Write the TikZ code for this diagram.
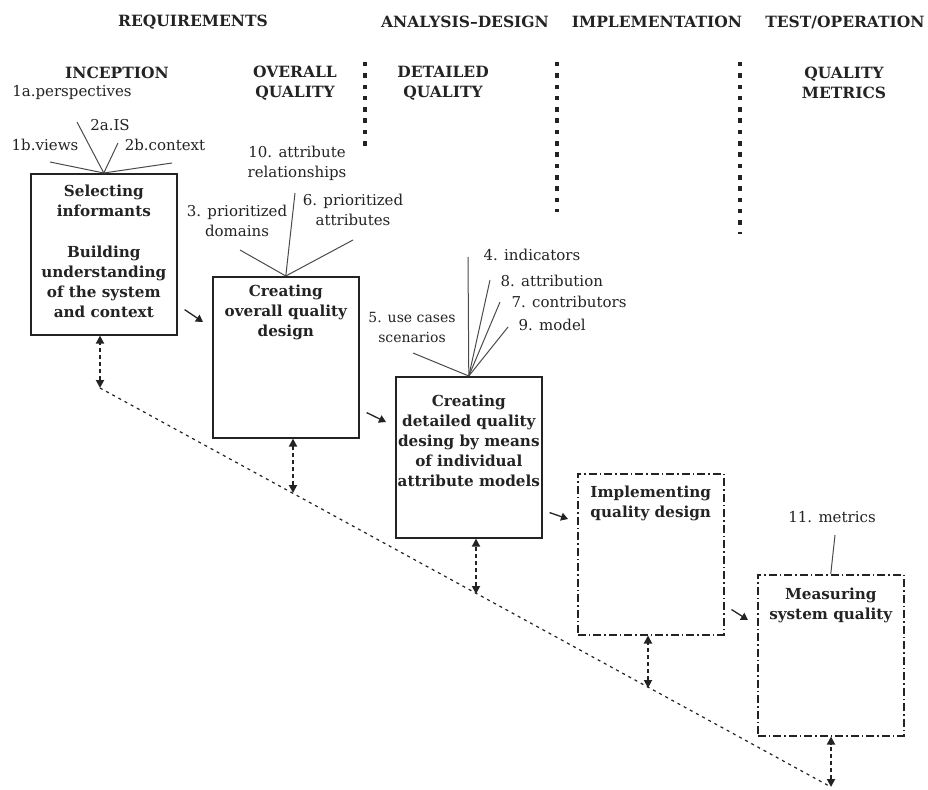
\documentclass[tikz,border=0pt]{standalone}
\usepackage{fontspec}
\setmainfont{DejaVu Serif}
\usetikzlibrary{arrows.meta,positioning}
\definecolor{ink}{HTML}{232323}
\definecolor{wire}{HTML}{4A4A4A}

\begin{document}
\begin{tikzpicture}[x=1pt,y=-1pt,ink,
    hd/.style={font={\fontsize{15.5}{20}\selectfont\bfseries},align=center},
    lb/.style={font={\fontsize{15}{20}\selectfont},align=center},
    stage/.style={draw,line width=1.6pt,anchor=north west,minimum width=146pt,minimum height=161pt},
    plan/.style={stage,line width=1.5pt,dash pattern=on 8pt off 3pt on 1.5pt off 3pt},
    inner/.style={font={\fontsize{15.2}{20}\selectfont\bfseries},align=center},
    feed/.style={wire,line width=1pt},
    flow/.style={line width=1.3pt,-{Triangle[length=7pt,width=8pt]}},
    link/.style={line width=1.8pt,dash pattern=on 4pt off 3pt,{Triangle[length=8pt,width=8pt]}-{Triangle[length=8pt,width=8pt]}},
    trace/.style={line width=1.2pt,dash pattern=on 3pt off 4pt},
    sep/.style={line width=4.5pt,dash pattern=on 4.5pt off 6.8pt}]
  \useasboundingbox (0,0) rectangle (928,789);

  % phases
  \node[hd] (req) at (193,22) {REQUIREMENTS};
  \node[hd] (ana) at (465,22) {ANALYSIS--DESIGN};
  \node[hd] (imp) at (657,22) {IMPLEMENTATION};
  \node[hd] (tst) at (845,22) {TEST/OPERATION};
  \node[hd] (inc) at (117,73) {INCEPTION};
  \node[hd] (ovq) at (295,83) {OVERALL\\QUALITY};
  \node[hd] (dtq) at (443,83) {DETAILED\\QUALITY};
  \node[hd] (qmt) at (844,83) {QUALITY\\METRICS};
  \foreach \x/\y in {365/146,557/212,740/234}
    \draw[sep] (\x,62) -- (\x,\y);

  % stages
  \node[stage] (b1) at (30,173) {};
  \node[stage] (b2) at (212,276) {};
  \node[stage] (b3) at (395,376) {};
  \node[plan] (b4) at (577,473) {};
  \node[plan] (b5) at (757,574) {};
  \node[inner,below=8pt of b1.north] (b1t) {Selecting\\informants\\[21pt]Building\\understanding\\of the system\\and context};
  \node[inner,below=5pt of b2.north] (b2t) {Creating\\overall quality\\design};
  \node[inner,below=15pt of b3.north] (b3t) {Creating\\detailed quality\\desing by means\\of individual\\attribute models};
  \node[inner,below=9pt of b4.north] (b4t) {Implementing\\quality design};
  \node[inner,below=10pt of b5.north] (b5t) {Measuring\\system quality};

  % inputs
  \node[lb] (p1a) at (72,92) {1a.perspectives};
  \node[lb] (p2a) at (110,125) {2a.IS};
  \node[lb] (p1b) at (45,145) {1b.views};
  \node[lb] (p2b) at (165,145) {2b.context};
  \node[lb] (p10) at (297,163) {10. attribute\\relationships};
  \node[lb] (p3) at (237,221) {3. prioritized\\domains};
  \node[lb] (p6) at (353,210) {6. prioritized\\attributes};
  \node[lb,anchor=west] (p4) at (480,255) {4. indicators};
  \node[lb,anchor=west] (p8) at (497,281) {8. attribution};
  \node[lb,anchor=west] (p7) at (508,302) {7. contributors};
  \node[lb,anchor=west] (p9) at (515,325) {9. model};
  \node[lb,font={\fontsize{14}{20}\selectfont}] (p5) at (412,327) {5. use cases\\scenarios};
  \node[lb] (p11) at (832,517) {11. metrics};

  \coordinate (t1a) at (77,122); \coordinate (t2a) at (118,143);
  \coordinate (t1b) at (50,162); \coordinate (t2b) at (172,163);
  \coordinate (t3) at (240,250); \coordinate (t10) at (295,193); \coordinate (t6) at (353,240);
  \coordinate (t4) at (468,257); \coordinate (t8) at (490,280); \coordinate (t7) at (500,302);
  \coordinate (t9) at (508,327); \coordinate (t5) at (413,353);
  \coordinate (t11) at (835,535);
  \foreach \t in {t1a,t2a,t1b,t2b} \draw[feed] (\t) -- (b1.north);
  \foreach \t in {t3,t10,t6} \draw[feed] (\t) -- (b2.north);
  \foreach \t in {t4,t8,t7,t9,t5} \draw[feed] (\t) -- (b3.north);
  \draw[feed] (t11) -- (b5.north);

  % flow between stages
  \foreach \a/\b in {b1/b2,b2/b3,b3/b4,b4/b5}
    \draw[flow] ([shift={(7pt,26pt)}]\a.south east) -- ([shift={(-9pt,-46pt)}]\b.north west);

  % feedback trace
  \coordinate (e1) at (100,388); \coordinate (e2) at (293,493); \coordinate (e3) at (476,594);
  \coordinate (e4) at (648,688); \coordinate (e5) at (831,787);
  \draw[trace] (e1) -- (e5);
  \foreach \n in {1,...,5}
    \draw[link] (e\n) -- (e\n |- b\n.south);
\end{tikzpicture}
\end{document}
